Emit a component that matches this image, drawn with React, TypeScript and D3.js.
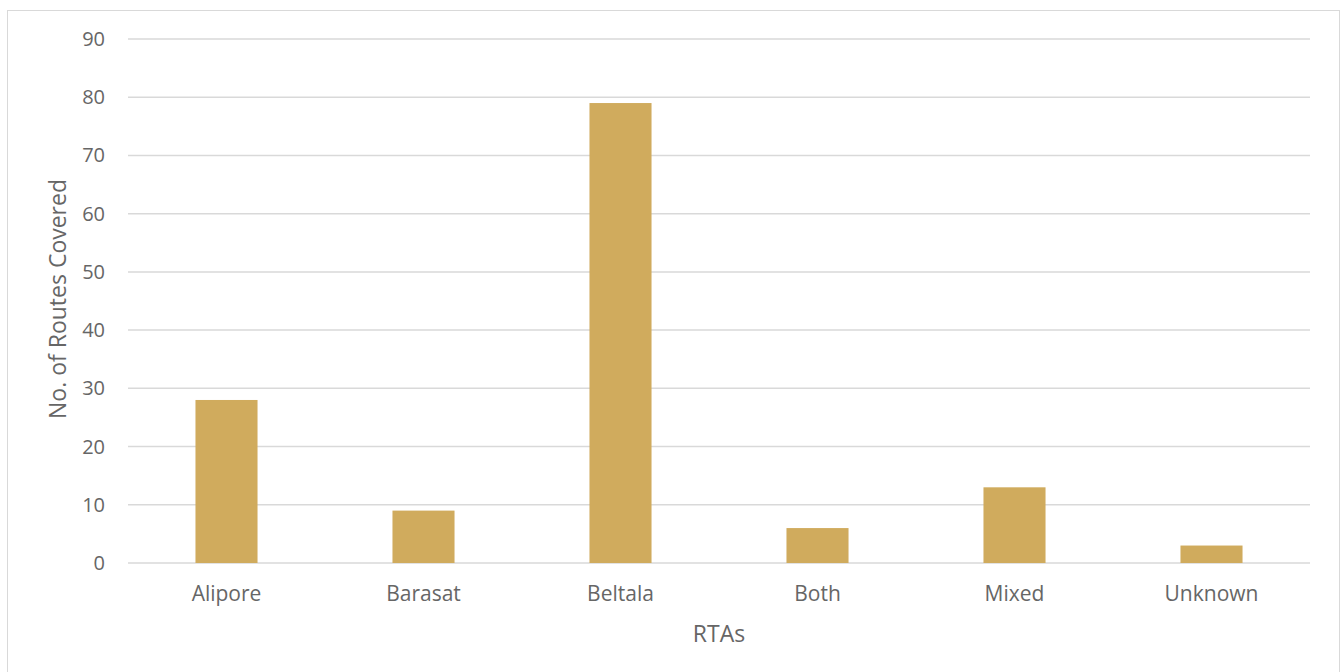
import React from "react";
import * as d3 from "d3";

const categories = ["Alipore", "Barasat", "Beltala", "Both", "Mixed", "Unknown"];
const values = [28, 9, 79, 6, 13, 3];
const yTicks = [0, 10, 20, 30, 40, 50, 60, 70, 80, 90];
const yTitle = "No. of Routes Covered";
const xTitle = "RTAs";

const W = 1342;
const H = 672;
const left = 128;
const right = 1310;
const top = 39;
const bottom = 563;
const font = "'Open Sans', 'Segoe UI', sans-serif";
const textColor = "#666666";

export default function App() {
  const x = d3.scaleBand<string>().domain(categories).range([left, right]).paddingInner(0.685).paddingOuter(0.3425);
  const y = d3.scaleLinear().domain([0, 90]).range([bottom, top]);
  return (
    <svg width={W} height={H} style={{ position: "absolute", left: 0, top: 0, background: "#fff" }}>
      <rect x={7.5} y={10.5} width={1332} height={670} fill="#fff" stroke="#d9d9d9" strokeWidth={1} />
      {yTicks.map((t) => (
        <g key={t}>
          <line x1={left} x2={right} y1={y(t)} y2={y(t)} stroke="#d9d9d9" strokeWidth={1.5} />
          <text x={105} y={y(t)} dy="0.35em" textAnchor="end" fontFamily={font} fontSize={20} fill={textColor}>
            {t}
          </text>
        </g>
      ))}
      {categories.map((c, i) => (
        <g key={c}>
          <rect x={x(c)} y={y(values[i])} width={x.bandwidth()} height={y(0) - y(values[i])} fill="#D0AB5D" />
          <text x={(x(c) as number) + x.bandwidth() / 2} y={594} dy="0.35em" textAnchor="middle" fontFamily={font} fontSize={21} fill={textColor}>
            {c}
          </text>
        </g>
      ))}
      <text x={719} y={634} dy="0.35em" textAnchor="middle" fontFamily={font} fontSize={23} fill={textColor}>
        {xTitle}
      </text>
      <text transform={`translate(58, 299) rotate(-90)`} dy="0.35em" textAnchor="middle" fontFamily={font} fontSize={23} fill={textColor}>
        {yTitle}
      </text>
    </svg>
  );
}
